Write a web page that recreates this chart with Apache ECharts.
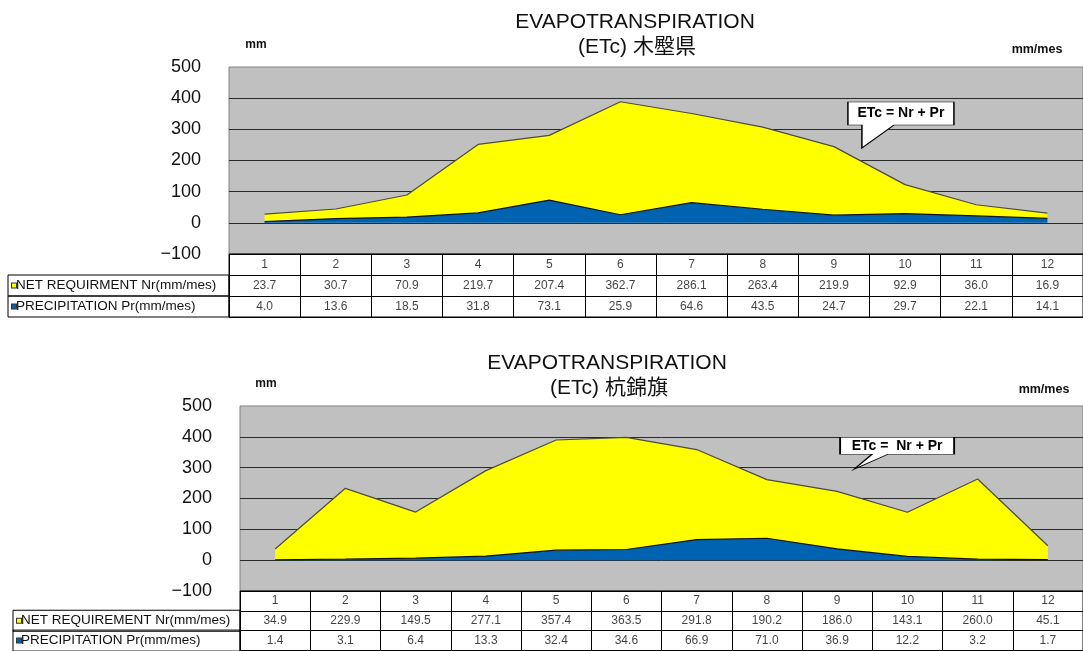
<!DOCTYPE html>
<html>
<head>
<meta charset="utf-8">
<script src="https://cdn.jsdelivr.net/npm/echarts@6/dist/echarts.min.js"></script>
<style>
html,body{margin:0;padding:0;background:#fff}
#main{width:1083px;height:651px}
</style>
</head>
<body>
<div id="main"></div>
<script>
// months / data
var months = ['1','2','3','4','5','6','7','8','9','10','11','12'];

var nr1 = [23.7, 30.7, 70.9, 219.7, 207.4, 362.7, 286.1, 263.4, 219.9, 92.9, 36.0, 16.9];
var pr1 = [4.0, 13.6, 18.5, 31.8, 73.1, 25.9, 64.6, 43.5, 24.7, 29.7, 22.1, 14.1];

var nr2 = [34.9, 229.9, 149.5, 277.1, 357.4, 363.5, 291.8, 190.2, 186.0, 143.1, 260.0, 45.1];
var pr2 = [1.4, 3.1, 6.4, 13.3, 32.4, 34.6, 66.9, 71.0, 36.9, 12.2, 3.2, 1.7];

var rows1 = ['', 'NET REQUIRMENT Nr(mm/mes)', 'PRECIPITATION Pr(mm/mes)'];
var rows2 = ['', 'NET REQUIREMENT Nr(mm/mes)', 'PRECIPITATION Pr(mm/mes)'];

var places = ['木壂県', '杭錦旗'];
var callouts = ['ETc = Nr + Pr', 'ETc =  Nr + Pr'];

var yMin = -100, yMax = 500, yStep = 100;

var YELLOW = '#ffff00';
var BLUE = '#0063b1';
var TXT = 'Arial, "Noto Sans CJK JP", sans-serif';

var chart = echarts.init(document.getElementById('main'));

var grids = [], xAxes = [], yAxes = [], series = [], graphics = [];

function addPanel(p, nr, pr, rows, place, cfg) {
    var gp = grids.length;      // plot grid
    var gt = gp + 1;            // table grid

    grids.push({left: cfg.left, top: cfg.top, width: cfg.width, height: cfg.plotH,
        show: true, backgroundColor: '#c0c0c0', borderColor: '#808080', borderWidth: 1});
    grids.push({left: cfg.left, top: cfg.top + cfg.plotH, width: cfg.width, height: cfg.rowH * 3,
        show: true, backgroundColor: '#ffffff', borderColor: '#000', borderWidth: 1});

    xAxes.push({gridIndex: gp, type: 'category', data: months, boundaryGap: true,
        axisLine: {show: false}, axisTick: {show: false}, axisLabel: {show: false}});
    yAxes.push({gridIndex: gp, type: 'value', min: yMin, max: yMax, interval: yStep,
        axisLine: {show: false}, axisTick: {show: false},
        axisLabel: {fontSize: 18, color: '#111', margin: 28, fontFamily: 'Arial',
            formatter: function (v) { return v < 0 ? '\u2212' + Math.abs(v) : v; }},
        splitLine: {show: true, showMinLine: false, showMaxLine: false,
            lineStyle: {color: '#2a2a2a', width: 1}}});

    // table under the plot
    xAxes.push({gridIndex: gt, type: 'category', data: months, boundaryGap: true,
        axisLine: {show: false}, axisTick: {show: false}, axisLabel: {show: false},
        splitLine: {show: true, interval: 0, lineStyle: {color: '#000', width: 1}}});
    yAxes.push({gridIndex: gt, type: 'category', inverse: true,
        data: rows.map(function (r, i) {
            return i === 0 ? {value: 'h', textStyle: {borderWidth: 0, borderColor: 'transparent'}} : r;
        }),
        axisLine: {show: false}, axisTick: {show: false},
        splitLine: {show: true, interval: 0, lineStyle: {color: '#000', width: 1}},
        axisLabel: {
            interval: 0, hideOverlap: false,
            align: 'left', margin: cfg.left - cfg.tabLeft,
            width: cfg.left - cfg.tabLeft - 4, lineHeight: cfg.rowH, padding: [0, 0, 0, 4],
            borderColor: '#000', borderWidth: 1, verticalAlign: 'middle',
            fontSize: 13.5, color: '#111', fontFamily: 'Arial',
            formatter: function (v, i) {
                if (i === 0) return '';
                return (i === 1 ? '{iy|}' : '{ib|}') + v;
            },
            rich: {
                iy: {width: 4, height: 4, backgroundColor: YELLOW, borderColor: '#333', borderWidth: 1},
                ib: {width: 4, height: 4, backgroundColor: BLUE, borderColor: '#333', borderWidth: 1}
            }
        }});

    series.push({
        name: 'PRECIPITATION Pr', type: 'line', xAxisIndex: gp, yAxisIndex: gp,
        stack: 'etc' + p, data: pr, symbol: 'none', color: BLUE,
        lineStyle: {color: '#111', width: 1.2},
        areaStyle: {color: BLUE, opacity: 1}
    });
    series.push({
        name: 'NET REQUIREMENT Nr', type: 'line', xAxisIndex: gp, yAxisIndex: gp,
        stack: 'etc' + p, data: nr, symbol: 'none', color: YELLOW,
        lineStyle: {color: '#4d4d3a', width: 1.2},
        areaStyle: {color: YELLOW, opacity: 1},
        markPoint: {
            symbol: cfg.callPath, symbolSize: cfg.callSize, symbolOffset: cfg.callOffset,
            itemStyle: {color: '#fff', borderColor: '#000', borderWidth: 1},
            label: {show: true, position: 'inside', offset: cfg.labelOffset,
                formatter: callouts[p], color: '#000', fontWeight: 'bold', fontSize: 14, fontFamily: 'Arial'},
            data: [{coord: ['9', cfg.callValue]}]
        }
    });

    var cells = [];
    for (var i = 0; i < months.length; i++) {
        cells.push([i, 0, months[i]]);
        cells.push([i, 1, nr[i].toFixed(1)]);
        cells.push([i, 2, pr[i].toFixed(1)]);
    }
    series.push({
        type: 'scatter', xAxisIndex: gt, yAxisIndex: gt, data: cells,
        symbolSize: 1, itemStyle: {color: 'transparent'}, silent: true,
        label: {show: true, position: 'inside', color: '#111', fontSize: 12, fontFamily: 'Arial',
            formatter: function (q) { return q.value[2]; }}
    });

    graphics.push({type: 'text', x: cfg.tx, y: cfg.ty, style: {text: 'EVAPOTRANSPIRATION',
        align: 'center', verticalAlign: 'middle', fontSize: 21, fontFamily: TXT, fill: '#111'}});
    graphics.push({type: 'text', x: cfg.tx + 2, y: cfg.ty + 25, style: {text: '(ETc) ' + place,
        align: 'center', verticalAlign: 'middle', fontSize: 21, fontFamily: TXT, fill: '#111'}});
    graphics.push({type: 'text', x: cfg.mmX, y: cfg.mmY, style: {text: 'mm',
        align: 'center', verticalAlign: 'middle', fontSize: 12, fontWeight: 'bold', fontFamily: 'Arial', fill: '#111'}});
    graphics.push({type: 'text', x: cfg.unitX, y: cfg.unitY, style: {text: 'mm/mes',
        align: 'center', verticalAlign: 'middle', fontSize: 12.5, fontWeight: 'bold', fontFamily: 'Arial', fill: '#111'}});
}

addPanel(0, nr1, pr1, rows1, places[0], {
    left: 229, top: 67, width: 857, plotH: 187, rowH: 21, tabLeft: 8,
    callPath: 'path://M0,0 L106,0 L106,23 L46,23 L14,46 L14,23 L0,23 Z',
    callSize: [106, 46], callOffset: [67, -23], labelOffset: [0, -11.5], callValue: 240,
    tx: 635, ty: 22, mmX: 256, mmY: 45, unitX: 1037, unitY: 50
});
addPanel(1, nr2, pr2, rows2, places[1], {
    left: 240, top: 406, width: 857, plotH: 185, rowH: 21, tabLeft: 13,
    callPath: 'path://M0,0 L114,0 L114,17 L48,17 L14,32 L32,17 L0,17 Z',
    callSize: [114, 32], callOffset: [60, -16], labelOffset: [0, -7.5], callValue: 295,
    tx: 607, ty: 363, mmX: 266, mmY: 384, unitX: 1044, unitY: 390
});

var option = {
    backgroundColor: '#ffffff',
    animation: false,
    grid: grids,
    xAxis: xAxes,
    yAxis: yAxes,
    series: series,
    graphic: graphics
};

chart.setOption(option);
</script>
</body>
</html>
